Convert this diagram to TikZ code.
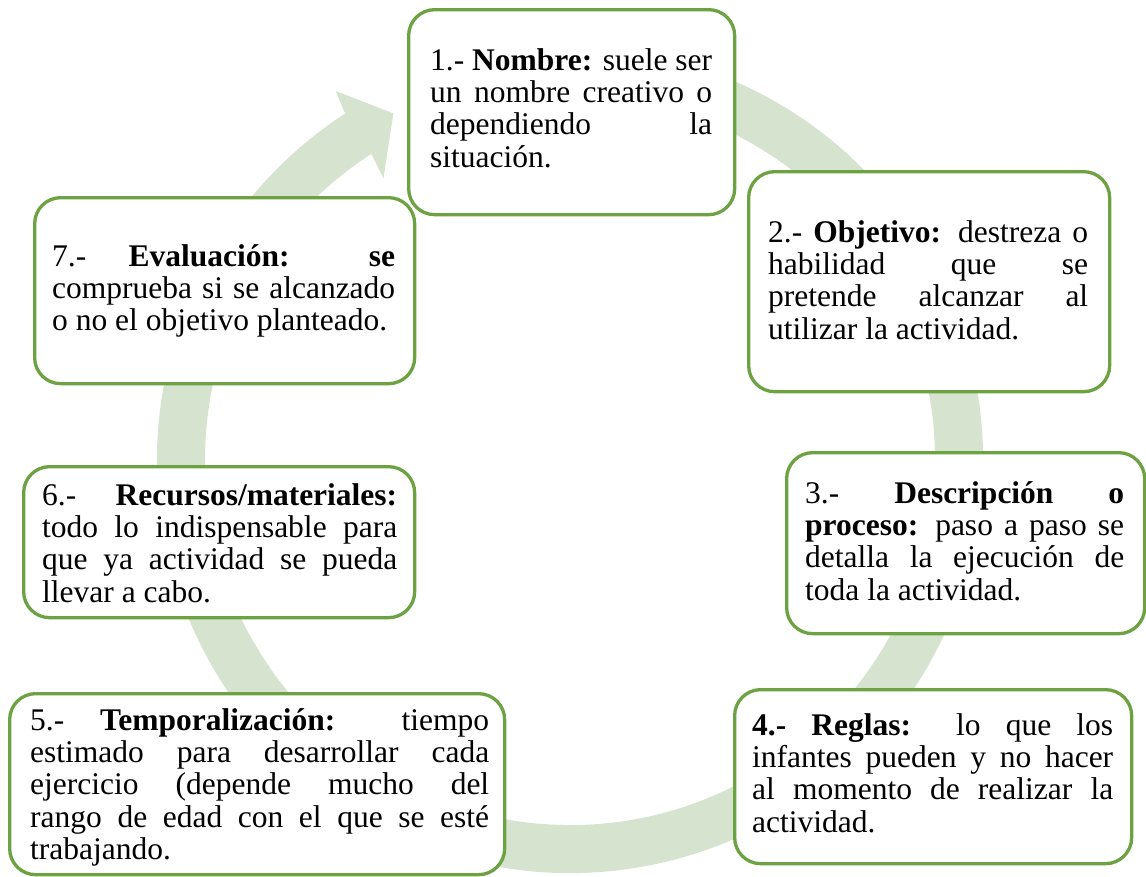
\documentclass[tikz,border=0pt]{standalone}
\usepackage{fontspec}
\setmainfont{Liberation Serif}
\definecolor{ringc}{RGB}{214,227,206}
\definecolor{boxc}{RGB}{108,162,66}
\tikzset{
  box/.style={draw=boxc, line width=3.3pt, fill=white, rounded corners=26pt, inner sep=0pt, anchor=north west},
  txt/.style={anchor=base west, inner sep=0pt, align=justify, font=\fontsize{31.5}{32.4}\selectfont},
}
\begin{document}
\begin{tikzpicture}[x=1pt,y=-1pt]
\useasboundingbox (0,0) rectangle (1146,876);
% ring arrow
\coordinate (c) at (570,460);
\begin{scope}[shift={(c)}, x=1pt, y=1pt]
  \fill[ringc] (108:413) arc[start angle=108, end angle=-237, radius=413]
     -- (-237.6:437) -- (-243:389) -- (-236.5:338) -- (-237:365)
     arc[start angle=-237, end angle=108, radius=365] -- cycle;
\end{scope}
% boxes
\node[box, minimum width=326pt, minimum height=205pt] (b1) at (407,8) {};
\node[box, minimum width=361pt, minimum height=220pt] (b2) at (747,170) {};
\node[box, minimum width=358pt, minimum height=181pt] (b3) at (785,451) {};
\node[box, minimum width=397pt, minimum height=174pt] (b4) at (733,688) {};
\node[box, minimum width=495pt, minimum height=181pt] (b5) at (8,692) {};
\node[box, minimum width=391pt, minimum height=151pt] (b6) at (22,465) {};
\node[box, minimum width=380pt, minimum height=186pt] (b7) at (33,196) {};
% texts
\node[txt, text width=282pt] (t1) at (430,70) {1.- \textbf{Nombre:} suele ser\linebreak un nombre creativo o\linebreak dependiendo la\linebreak situación.};
\node[txt, text width=320pt] (t2) at (768,242) {2.- \textbf{Objetivo:} destreza o\linebreak habilidad que se\linebreak pretende alcanzar al\linebreak utilizar la actividad.};
\node[txt, text width=319pt] (t3) at (805,503) {3.- \textbf{Descripción o}\linebreak \textbf{proceso:} paso a paso se\linebreak detalla la ejecución de\linebreak toda la actividad.};
\node[txt, text width=361pt] (t4) at (752,735) {\textbf{4.- Reglas:} lo que los\linebreak infantes pueden y no hacer\linebreak al momento de realizar la\linebreak actividad.};
\node[txt, text width=459pt] (t5) at (30,730) {5.- \textbf{Temporalización:} tiempo\linebreak estimado para desarrollar cada\linebreak ejercicio (depende mucho del\linebreak rango de edad con el que se esté\linebreak trabajando.};
\node[txt, text width=355pt] (t6) at (42,505) {6.- \textbf{Recursos/materiales:}\linebreak todo lo indispensable para\linebreak que ya actividad se pueda\linebreak llevar a cabo.};
\node[txt, text width=343pt] (t7) at (52,266) {7.- \textbf{Evaluación: se}\linebreak comprueba si se alcanzado\linebreak o no el objetivo planteado.};
\end{tikzpicture}
\end{document}
